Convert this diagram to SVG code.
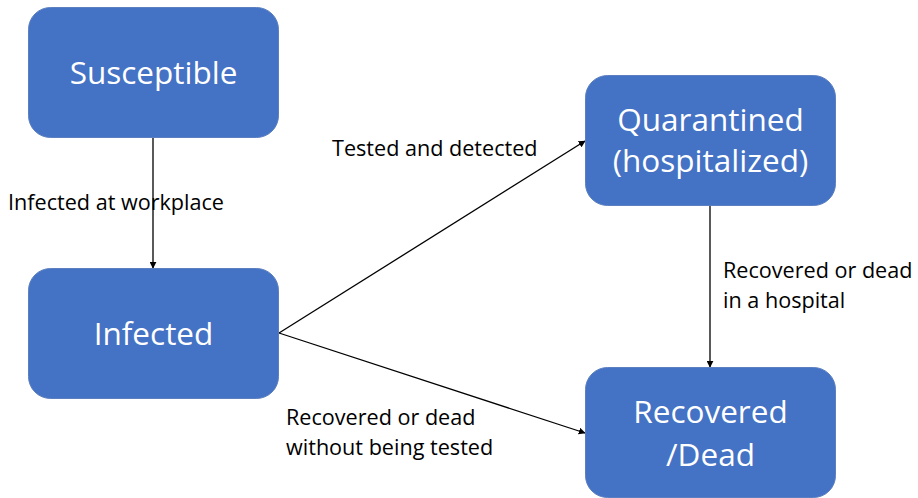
<svg xmlns="http://www.w3.org/2000/svg" width="918" height="498" viewBox="0 0 918 498">
<style>
.node{fill:#4472C4;stroke:#5B7FC0;stroke-width:1}
.nt{font-family:"Open Sans","Noto Sans",sans-serif;font-size:31.5px;fill:#FFFFFF;text-anchor:middle}
.lb{font-family:"Open Sans","Noto Sans",sans-serif;font-size:21.6px;fill:#000000}
.edge{stroke:#000000;stroke-width:1.3;fill:none;marker-end:url(#ah)}
</style>
<defs>
<marker id="ah" viewBox="0 0 10 10" refX="9" refY="5" markerWidth="7" markerHeight="7" markerUnits="userSpaceOnUse" orient="auto">
<path d="M0,0 L10,5 L0,10 z" fill="#000000"/>
</marker>
</defs>
<rect width="918" height="498" fill="#FFFFFF"/>
<g id="connectors">
<line class="edge" x1="153" y1="138" x2="153" y2="268"/>
<line class="edge" x1="279" y1="333" x2="585" y2="141"/>
<line class="edge" x1="279" y1="333" x2="585" y2="433"/>
<line class="edge" x1="710" y1="206" x2="710" y2="367"/>
</g>
<g id="susceptible">
<rect class="node" x="28.5" y="7.5" width="250" height="130" rx="22"/>
<text class="nt" x="153.5" y="84">Susceptible</text>
</g>
<g id="infected">
<rect class="node" x="28.5" y="268.5" width="250" height="130" rx="22"/>
<text class="nt" x="153.5" y="345">Infected</text>
</g>
<g id="quarantined">
<rect class="node" x="585.5" y="75.5" width="250" height="130" rx="22"/>
<text class="nt" x="710.5" y="131">Quarantined</text>
<text class="nt" x="710.5" y="172">(hospitalized)</text>
</g>
<g id="recovered">
<rect class="node" x="585.5" y="367.5" width="250" height="130" rx="22"/>
<text class="nt" x="710.5" y="423">Recovered</text>
<text class="nt" x="710.5" y="466">/Dead</text>
</g>
<g id="labels">
<text class="lb" x="8" y="210">Infected at workplace</text>
<text class="lb" x="332" y="156">Tested and detected</text>
<text class="lb" x="723" y="278">Recovered or dead</text>
<text class="lb" x="723" y="308">in a hospital</text>
<text class="lb" x="286" y="425">Recovered or dead</text>
<text class="lb" x="286" y="455">without being tested</text>
</g>
</svg>
